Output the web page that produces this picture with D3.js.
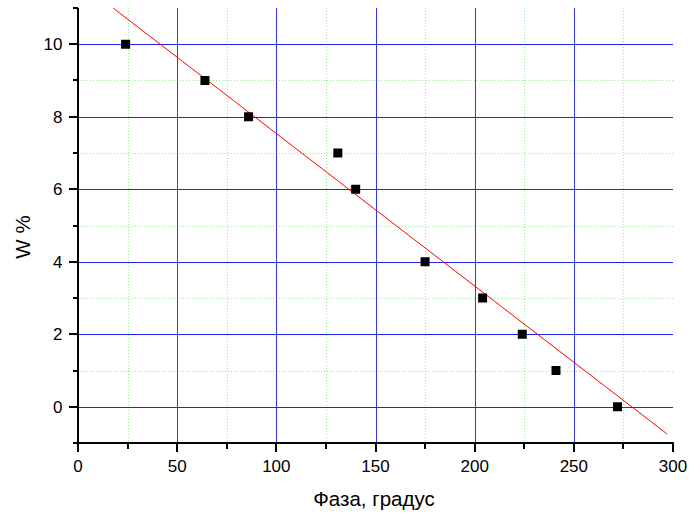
<!DOCTYPE html>
<html><head><meta charset="utf-8">
<script src="https://cdn.jsdelivr.net/npm/d3@7"></script>
<style>body{margin:0;background:#fff}svg{display:block}text{font-family:"Liberation Sans",Arial,sans-serif}</style>
</head><body><svg id="c" width="691" height="513"></svg>
<script>
const phase = [24, 64, 86, 131, 140, 175, 204, 224, 241, 272];
const wPct  = [10, 9, 8, 7, 6, 4, 3, 2, 1, 0];
const fitX = [17.7, 297];
const fitY = [11.0, -0.75];
const xTicks = [0, 50, 100, 150, 200, 250, 300];
const yTicks = [0, 2, 4, 6, 8, 10];
const xMinorTicks = [25, 75, 125, 175, 225, 275];
const yMinorTicks = [-1, 1, 3, 5, 7, 9, 11];
const xTitle = "Фаза, градус";
const yTitle = "W %";

const svg = d3.select("#c");
const x = d3.scaleLinear().domain([0, 300]).range([78, 673]);
const y = d3.scaleLinear().domain([-1, 11]).range([443, 8]);
const px = v => Math.round(x(v)) + 0.5;
const py = v => Math.round(y(v)) + 0.5;

const g = svg.append("g");
g.selectAll(".xm").data(xMinorTicks).enter().append("line")
  .attr("x1", px).attr("x2", px)
  .attr("y1", y(11)).attr("y2", y(-1))
  .attr("stroke", "#90ee90").attr("stroke-dasharray", "1,2");
g.selectAll(".ym").data(yMinorTicks.filter(d => d > -1 && d < 11)).enter().append("line")
  .attr("y1", py).attr("y2", py)
  .attr("x1", x(0)).attr("x2", x(300))
  .attr("stroke", "#90ee90").attr("stroke-dasharray", "1,2");
g.selectAll(".xg").data(xTicks.filter(d => d > 0 && d < 300)).enter().append("line")
  .attr("x1", px).attr("x2", px)
  .attr("y1", y(11)).attr("y2", y(-1))
  .attr("stroke", "#3333ff");
g.selectAll(".yg").data(yTicks).enter().append("line")
  .attr("y1", py).attr("y2", py)
  .attr("x1", x(0)).attr("x2", x(300))
  .attr("stroke", "#2222ee");

// tick marks
const t = svg.append("g");
t.selectAll(".xt").data(xTicks).enter().append("rect")
  .attr("x", d => Math.round(x(d)) - 1).attr("y", 443).attr("width", 2).attr("height", 9).attr("fill", "#000");
t.selectAll(".xtm").data(xMinorTicks).enter().append("rect")
  .attr("x", d => Math.round(x(d)) - 1).attr("y", 443).attr("width", 2).attr("height", 6).attr("fill", "#000");
t.selectAll(".yt").data(yTicks).enter().append("rect")
  .attr("y", d => Math.round(y(d)) - 1).attr("x", 69).attr("height", 2).attr("width", 9).attr("fill", "#000");
t.selectAll(".ytm").data(yMinorTicks).enter().append("rect")
  .attr("y", d => Math.round(y(d)) - 1).attr("x", 73).attr("height", 2).attr("width", 5).attr("fill", "#000");

const lab = svg.append("g").attr("font-size", 17).attr("fill", "#000");
lab.selectAll(".xl").data(xTicks).enter().append("text")
  .attr("x", d => x(d)).attr("y", 472).attr("text-anchor", "middle").text(d3.format("d"));
lab.selectAll(".yl").data(yTicks).enter().append("text")
  .attr("x", 62.5).attr("y", d => y(d)).attr("dy", "0.36em").attr("text-anchor", "end").text(d3.format("d"));

svg.append("rect").attr("x", 77).attr("y", y(11)).attr("width", 2).attr("height", y(-1) - y(11) + 1).attr("fill", "#000");
svg.append("rect").attr("x", 77).attr("y", 442).attr("width", 673.75 - 77).attr("height", 2).attr("fill", "#000");

svg.append("line")
  .attr("x1", x(fitX[0])).attr("y1", y(fitY[0]))
  .attr("x2", x(fitX[1])).attr("y2", y(fitY[1]))
  .attr("stroke", "#ff0000").attr("stroke-width", 1);

svg.selectAll(".pt").data(phase.map((p, i) => [p, wPct[i]])).enter().append("rect")
  .attr("x", d => x(d[0]) - 4.5).attr("y", d => y(d[1]) - 4.5)
  .attr("width", 9).attr("height", 9).attr("fill", "#000");

svg.append("text").attr("x", 374).attr("y", 506).attr("text-anchor", "middle")
  .attr("font-size", 20.5).text(xTitle);
svg.append("text").attr("transform", "translate(30,237) rotate(-90)").attr("text-anchor", "middle")
  .attr("font-size", 20.5).text(yTitle);
</script></body></html>
